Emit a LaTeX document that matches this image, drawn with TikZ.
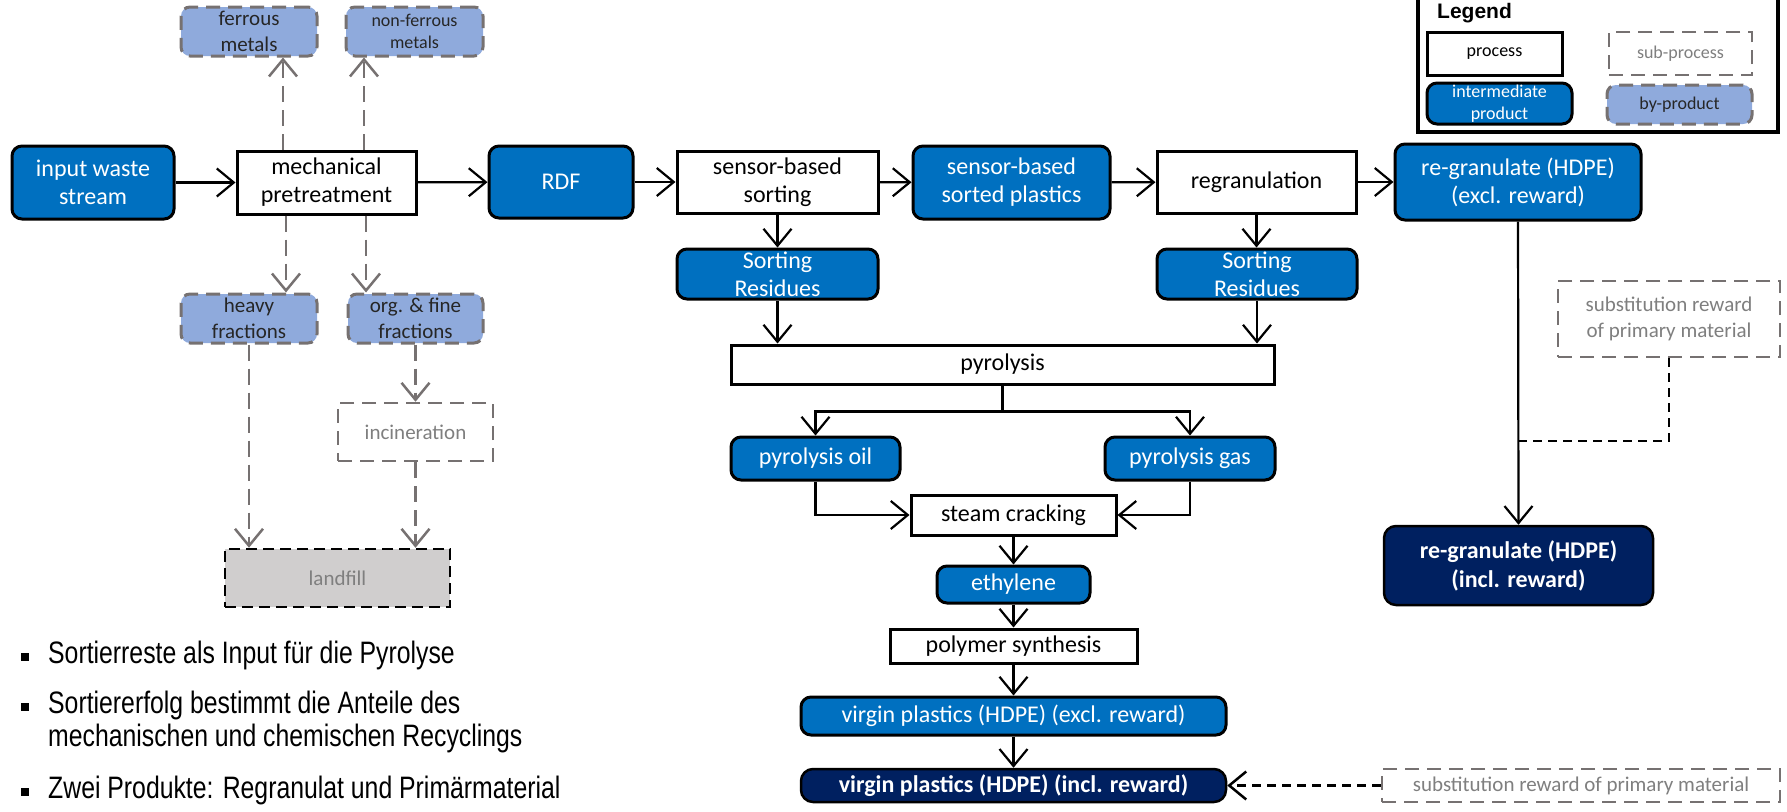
\documentclass[tikz,border=0pt]{standalone}
\usepackage{fontspec}
\setmainfont{Carlito}
\newfontfamily\arialn[FakeStretch=0.8]{Liberation Sans}
\newfontfamily\arialf{Liberation Sans}
\usetikzlibrary{arrows.meta,calc}
\definecolor{ibl}{HTML}{0070C0}
\definecolor{navy}{HTML}{002060}
\definecolor{bypf}{HTML}{8FAADC}
\definecolor{dgray}{HTML}{767171}
\definecolor{tgray}{HTML}{7F7F7F}
\definecolor{lfill}{HTML}{D0CECE}
\definecolor{btxt}{HTML}{262626}
\tikzset{
  base/.style={inner sep=0pt, align=center, font=\fontsize{24}{28}\selectfont},
  proc/.style={base, draw=black, line width=3pt, fill=white},
  inter/.style={base, draw=black, line width=3pt, fill=ibl, text=white, rounded corners=10pt},
  final/.style={base, draw=black, line width=2.5pt, fill=navy, text=white, rounded corners=12pt, font=\fontsize{24}{29}\selectfont\bfseries},
  byp/.style={base, draw=dgray, dash pattern=on 14pt off 8pt, line width=3pt, fill=bypf, text=btxt, rounded corners=9pt, font=\fontsize{21}{26}\selectfont},
  subp/.style={base, draw=dgray, dash pattern=on 14pt off 8pt, line width=2.5pt, fill=white, text=tgray, font=\fontsize{21}{26}\selectfont},
  lfl/.style={base, draw=black, dash pattern=on 11pt off 6pt, line width=2.5pt, fill=lfill, text=tgray, font=\fontsize{21}{26}\selectfont},
  arr/.style={draw=black, line width=2.2pt, -{Straight Barb[length=17pt,width=28pt,line width=2.2pt]}},
  garr/.style={draw=dgray, line width=2.5pt, dash pattern=on 16pt off 8pt, -{Straight Barb[length=17pt,width=28pt,line width=2.5pt]}},
  barr/.style={draw=black, line width=2.5pt, dash pattern=on 9pt off 6pt, -{Straight Barb[length=17pt,width=28pt,line width=2.5pt]}},
  bline/.style={draw=black, line width=2.5pt, dash pattern=on 9pt off 6pt},
  bsq/.style={fill=black, inner sep=0pt, minimum size=8pt},
  btext/.style={inner sep=0pt, anchor=west, align=left, font=\arialn\fontsize{31}{33}\selectfont},
}
\begin{document}
\begin{tikzpicture}[x=1pt, y=-1pt]
\useasboundingbox (0,0) rectangle (1787,811);
% legend
\draw[line width=3.5pt] (1418,-10) rectangle (1778,132);
\node[inner sep=0pt, anchor=west, font=\arialf\bfseries\fontsize{21}{25}\selectfont] (legt) at (1437,13) {Legend};
\node[proc, minimum width=135pt, minimum height=43pt, font=\fontsize{18}{22}\selectfont] (lproc) at (1494.5,53.5) {process};
\node[subp, minimum width=143pt, minimum height=43pt, font=\fontsize{18}{22}\selectfont] (lsub) at (1680.5,53.5) {sub-process};
\node[inter, minimum width=145pt, minimum height=41pt, font=\fontsize{18}{22}\selectfont] (linter) at (1499.5,103.5) {intermediate\\product};
\node[byp, minimum width=145pt, minimum height=39pt, font=\fontsize{18}{22}\selectfont] (lbyp) at (1679.5,104.5) {by-product};

% left part
\node[inter, minimum width=162pt, minimum height=73pt] (input) at (93,182.5) {input waste\\stream};
\node[proc, minimum width=179pt, minimum height=63pt] (mech) at (326.5,182.5) {mechanical\\pretreatment};
\node[byp, minimum width=136pt, minimum height=49pt] (fer) at (249,31.5) {ferrous\\metals};
\node[byp, minimum width=137pt, minimum height=49pt, font=\fontsize{18}{22}\selectfont] (nfer) at (414.5,31.5) {non-ferrous\\metals};
\node[byp, minimum width=136pt, minimum height=49pt] (heavy) at (249,318.5) {heavy\\fractions};
\node[byp, minimum width=135pt, minimum height=49pt] (org) at (415.5,318.5) {org. \& fine\\fractions};
\node[subp, minimum width=155pt, minimum height=58pt] (incin) at (415.5,432) {incineration};
\node[lfl, minimum width=225pt, minimum height=58pt] (landfill) at (337.5,578) {landfill};

% top row
\node[inter, minimum width=144pt, minimum height=72pt] (rdf) at (561,182) {RDF};
\node[proc, minimum width=201pt, minimum height=62pt] (sort) at (777.5,182) {sensor-based\\sorting};
\node[inter, minimum width=197pt, minimum height=73pt] (splast) at (1011.5,182.5) {sensor-based\\sorted plastics};
\node[proc, minimum width=199pt, minimum height=62pt] (regran) at (1256.5,182) {regranulation};
\node[inter, minimum width=246pt, minimum height=76pt] (rgex) at (1518,182) {re-granulate (HDPE)\\(excl. reward)};

% middle
\node[inter, minimum width=201pt, minimum height=50pt] (res1) at (777.5,274) {Sorting\\Residues};
\node[inter, minimum width=200pt, minimum height=50pt] (res2) at (1257,274) {Sorting\\Residues};
\node[proc, minimum width=543pt, minimum height=39pt] (pyro) at (1002.5,364.5) {pyrolysis};
\node[inter, minimum width=169pt, minimum height=43pt] (oil) at (815.5,458.5) {pyrolysis oil};
\node[inter, minimum width=170pt, minimum height=43pt] (gas) at (1190,458.5) {pyrolysis gas};
\node[proc, minimum width=205pt, minimum height=40pt] (steam) at (1013.5,515) {steam cracking};
\node[inter, minimum width=153pt, minimum height=37pt] (eth) at (1013.5,584.5) {ethylene};
\node[proc, minimum width=247pt, minimum height=34pt] (poly) at (1013.5,646) {polymer synthesis};
\node[inter, minimum width=425pt, minimum height=38pt] (vex) at (1013.5,716) {virgin plastics (HDPE) (excl. reward)};
\node[final, minimum width=425pt, minimum height=33pt] (vin) at (1013.5,785.5) {virgin plastics (HDPE) (incl. reward)};
\node[subp, minimum width=398pt, minimum height=33pt] (sub2) at (1581,785.5) {substitution reward of primary material};

% right
\node[final, minimum width=269pt, minimum height=79pt] (rgin) at (1518.5,565.5) {re-granulate (HDPE)\\(incl. reward)};
\node[subp, minimum width=222pt, minimum height=76pt] (sub1) at (1669,319) {substitution reward\\of primary material};
\coordinate (jn) at (rgex.south |- 0,441);

% connectors main row
\draw[arr] (input) -- (mech);
\draw[arr] (mech) -- (rdf);
\draw[arr] (rdf) -- (sort);
\draw[arr] (sort) -- (splast);
\draw[arr] (splast) -- (regran);
\draw[arr] (regran) -- (rgex);

% by-products
\draw[garr] ([xshift=-43.5pt]mech.north) -- ([xshift=-43.5pt]mech.north |- fer.south);
\draw[garr] ([xshift=37.5pt]mech.north) -- ([xshift=37.5pt]mech.north |- nfer.south);
\draw[garr] ([xshift=-40.5pt]mech.south) -- ([xshift=-40.5pt]mech.south |- heavy.north);
\draw[garr] ([xshift=39.5pt]mech.south) -- ([xshift=39.5pt]mech.south |- org.north);
\draw[garr] (heavy.south) -- (heavy.south |- landfill.north);
\draw[garr] (org.south) -- (incin.north);
\draw[garr] (incin.south) -- (incin.south |- landfill.north);

% residues and pyrolysis
\draw[arr] (sort.south) -- (res1.north);
\draw[arr] (regran.south) -- (regran.south |- res2.north);
\draw[arr] (res1.south) -- (res1.south |- pyro.north);
\draw[arr] (res2.south) -- (res2.south |- pyro.north);
\draw[arr] (pyro.south) -- ++(0,26) -| (oil.north);
\draw[arr] (pyro.south) -- ++(0,26) -| (gas.north);
\draw[arr] (oil.south) |- (steam.west);
\draw[arr] (gas.south) |- (steam.east);
\draw[arr] (steam.south) -- (eth.north);
\draw[arr] (eth.south) -- (poly.north);
\draw[arr] (poly.south) -- (vex.north);
\draw[arr] (vex.south) -- (vin.north);
\draw[barr] (sub2.west) -- (vin.east);

% right branch
\draw[arr] (rgex.south) -- (rgin.north);
\draw[bline] (sub1.south) |- (jn);

% bullets
\node[bsq] (q1) at (25,657) {};
\node[btext] (t1) at (48,655) {Sortierreste als Input für die Pyrolyse};
\node[bsq] (q2) at (25,707) {};
\node[btext] (t2) at (48,721.5) {Sortiererfolg bestimmt die Anteile des\\mechanischen und chemischen Recyclings};
\node[bsq] (q3) at (25,792) {};
\node[btext] (t3) at (48,790) {Zwei Produkte: Regranulat und Primärmaterial};
\end{tikzpicture}
\end{document}
